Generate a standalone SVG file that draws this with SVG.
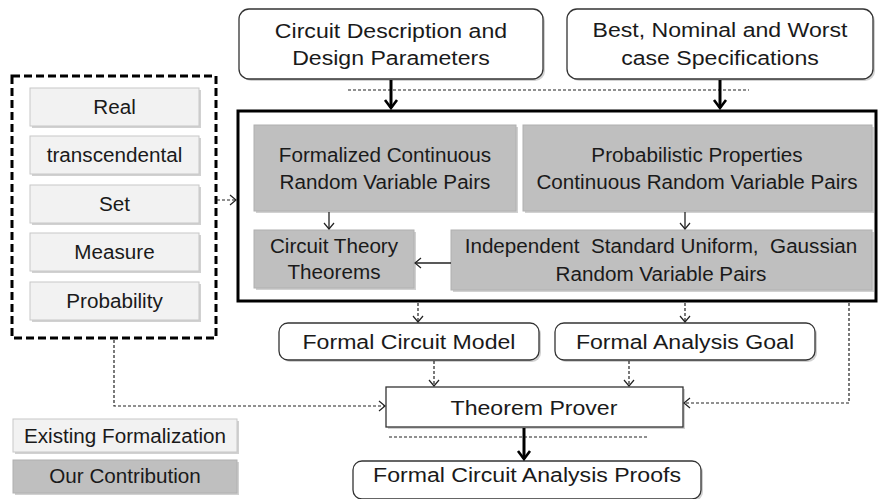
<svg xmlns="http://www.w3.org/2000/svg" width="878" height="499" viewBox="0 0 878 499">
<style>
text{font-family:"Liberation Sans",Arial,sans-serif;fill:#1a1a1a;text-anchor:middle;transform-box:fill-box;transform-origin:center}
.t22{font-size:21px;transform:scaleX(1.1)}
.t20{font-size:19.5px;transform:scaleX(1.06)}
.white{fill:#fff;stroke:#333;stroke-width:1.3}
.gray{fill:#bfbfbf;stroke:#b0b0b0;stroke-width:1}
.light{fill:#f2f2f2;stroke:#c8c8c8;stroke-width:1}
.shadow{fill:#000;opacity:0.18}
.thick{fill:none;stroke:#000;stroke-width:3}
.thin{fill:none;stroke:#222;stroke-width:1.3}
.dash{fill:none;stroke:#222;stroke-width:1.2;stroke-dasharray:3,2}
</style>
<defs>
<marker id="ahThick" markerUnits="userSpaceOnUse" viewBox="-11 -8 13 16" refX="0" refY="0" markerWidth="13" markerHeight="16" orient="auto"><path d="M-8,-6 L0,0 L-8,6" fill="none" stroke="#000" stroke-width="2.6"/></marker>
<marker id="ahThin" markerUnits="userSpaceOnUse" viewBox="-8 -6 10 12" refX="0" refY="0" markerWidth="10" markerHeight="12" orient="auto"><path d="M-6,-5 L0,0 L-6,5" fill="none" stroke="#222" stroke-width="1.2"/></marker>
</defs>

<g id="input-circuit">
<rect class="shadow" x="241" y="11" width="304" height="70" rx="10"/>
<rect class="white" x="239" y="9" width="304" height="70" rx="10"/>
<text class="t22" x="391" y="38">Circuit Description and</text>
<text class="t22" x="391" y="65">Design Parameters</text>
</g>
<g id="input-specs">
<rect class="shadow" x="569" y="11" width="306" height="70" rx="10"/>
<rect class="white" x="567" y="9" width="306" height="70" rx="10"/>
<text class="t22" x="720" y="37">Best, Nominal and Worst</text>
<text class="t22" x="720" y="65">case Specifications</text>
</g>

<g id="library">
<rect x="12" y="76" width="204" height="262" fill="none" stroke="#000" stroke-width="3" stroke-dasharray="8,4"/>
<g id="lib-real">
<rect class="shadow" x="32" y="90" width="169" height="38"/>
<rect class="light" x="30" y="88" width="169" height="38"/>
<text class="t20" x="114.5" y="114">Real</text>
</g>
<g id="lib-transcendental">
<rect class="shadow" x="32" y="138" width="169" height="38"/>
<rect class="light" x="30" y="136" width="169" height="38"/>
<text class="t20" x="114.5" y="162">transcendental</text>
</g>
<g id="lib-set">
<rect class="shadow" x="32" y="187" width="169" height="38"/>
<rect class="light" x="30" y="185" width="169" height="38"/>
<text class="t20" x="114.5" y="211">Set</text>
</g>
<g id="lib-measure">
<rect class="shadow" x="32" y="235" width="169" height="38"/>
<rect class="light" x="30" y="233" width="169" height="38"/>
<text class="t20" x="114.5" y="259">Measure</text>
</g>
<g id="lib-probability">
<rect class="shadow" x="32" y="284" width="169" height="38"/>
<rect class="light" x="30" y="282" width="169" height="38"/>
<text class="t20" x="114.5" y="308">Probability</text>
</g>
</g>

<g id="contribution">
<rect class="thick" x="238" y="111" width="638" height="190"/>
<g id="formalized-crv">
<rect class="shadow" x="256" y="127" width="262" height="86"/>
<rect class="gray" x="254" y="125" width="262" height="86"/>
<text class="t20" x="385" y="162">Formalized Continuous</text>
<text class="t20" x="385" y="189">Random Variable Pairs</text>
</g>
<g id="prob-properties">
<rect class="shadow" x="525" y="127" width="349" height="86"/>
<rect class="gray" x="523" y="125" width="349" height="86"/>
<text class="t20" x="697" y="162">Probabilistic Properties</text>
<text class="t20" x="697" y="189">Continuous Random Variable Pairs</text>
</g>
<g id="circuit-theory">
<rect class="shadow" x="256" y="232" width="160" height="58"/>
<rect class="gray" x="254" y="230" width="160" height="58"/>
<text class="t20" x="334" y="253">Circuit Theory</text>
<text class="t20" x="334" y="279">Theorems</text>
</g>
<g id="independent">
<rect class="shadow" x="453" y="232" width="421" height="60"/>
<rect class="gray" x="451" y="230" width="421" height="60"/>
<text class="t20" x="661" y="253" xml:space="preserve">Independent  Standard Uniform,  Gaussian</text>
<text class="t20" x="661" y="281">Random Variable Pairs</text>
</g>
</g>

<g id="circuit-model">
<rect class="shadow" x="281" y="325" width="260" height="37" rx="9"/>
<rect class="white" x="279" y="323" width="260" height="37" rx="9"/>
<text class="t22" x="409" y="349">Formal Circuit Model</text>
</g>
<g id="analysis-goal">
<rect class="shadow" x="557" y="325" width="260" height="37" rx="9"/>
<rect class="white" x="555" y="323" width="260" height="37" rx="9"/>
<text class="t22" x="685" y="349">Formal Analysis Goal</text>
</g>
<g id="theorem-prover">
<rect class="shadow" x="388" y="389" width="297" height="40"/>
<rect class="white" x="386" y="387" width="297" height="40"/>
<text class="t22" x="534" y="415">Theorem Prover</text>
</g>
<g id="proofs">
<rect class="shadow" x="355" y="463" width="348" height="38" rx="9"/>
<rect class="white" x="353" y="461" width="348" height="38" rx="9"/>
<text class="t22" x="527" y="482">Formal Circuit Analysis Proofs</text>
</g>

<g id="legend">
<g id="legend-existing">
<rect class="shadow" x="15" y="421" width="224" height="33"/>
<rect class="light" x="13" y="419" width="224" height="33"/>
<text class="t20" x="125" y="443">Existing Formalization</text>
</g>
<g id="legend-ours">
<rect class="shadow" x="15" y="462" width="224" height="33"/>
<rect class="gray" x="13" y="460" width="224" height="33"/>
<text class="t20" x="125" y="483">Our Contribution</text>
</g>
</g>

<g id="connectors">
<path class="dash" d="M348,90 H749"/>
<path class="dash" d="M389,437 H648"/>
<path class="thick" d="M391,80 V108" marker-end="url(#ahThick)"/>
<path class="thick" d="M720,80 V108" marker-end="url(#ahThick)"/>
<path class="thick" d="M524,428 V459" marker-end="url(#ahThick)"/>
<path class="thin" d="M329,212 V229" marker-end="url(#ahThin)"/>
<path class="thin" d="M685,212 V229" marker-end="url(#ahThin)"/>
<path class="thin" d="M451,263 H415" marker-end="url(#ahThin)"/>
<path class="dash" d="M217,200 H236" marker-end="url(#ahThin)"/>
<path class="dash" d="M418,303 V322" marker-end="url(#ahThin)"/>
<path class="dash" d="M685,303 V322" marker-end="url(#ahThin)"/>
<path class="dash" d="M434,361 V386" marker-end="url(#ahThin)"/>
<path class="dash" d="M629,361 V386" marker-end="url(#ahThin)"/>
<path class="dash" d="M114,340 V406 H385" marker-end="url(#ahThin)"/>
<path class="dash" d="M849,303 V403 H684" marker-end="url(#ahThin)"/>
</g>
</svg>
